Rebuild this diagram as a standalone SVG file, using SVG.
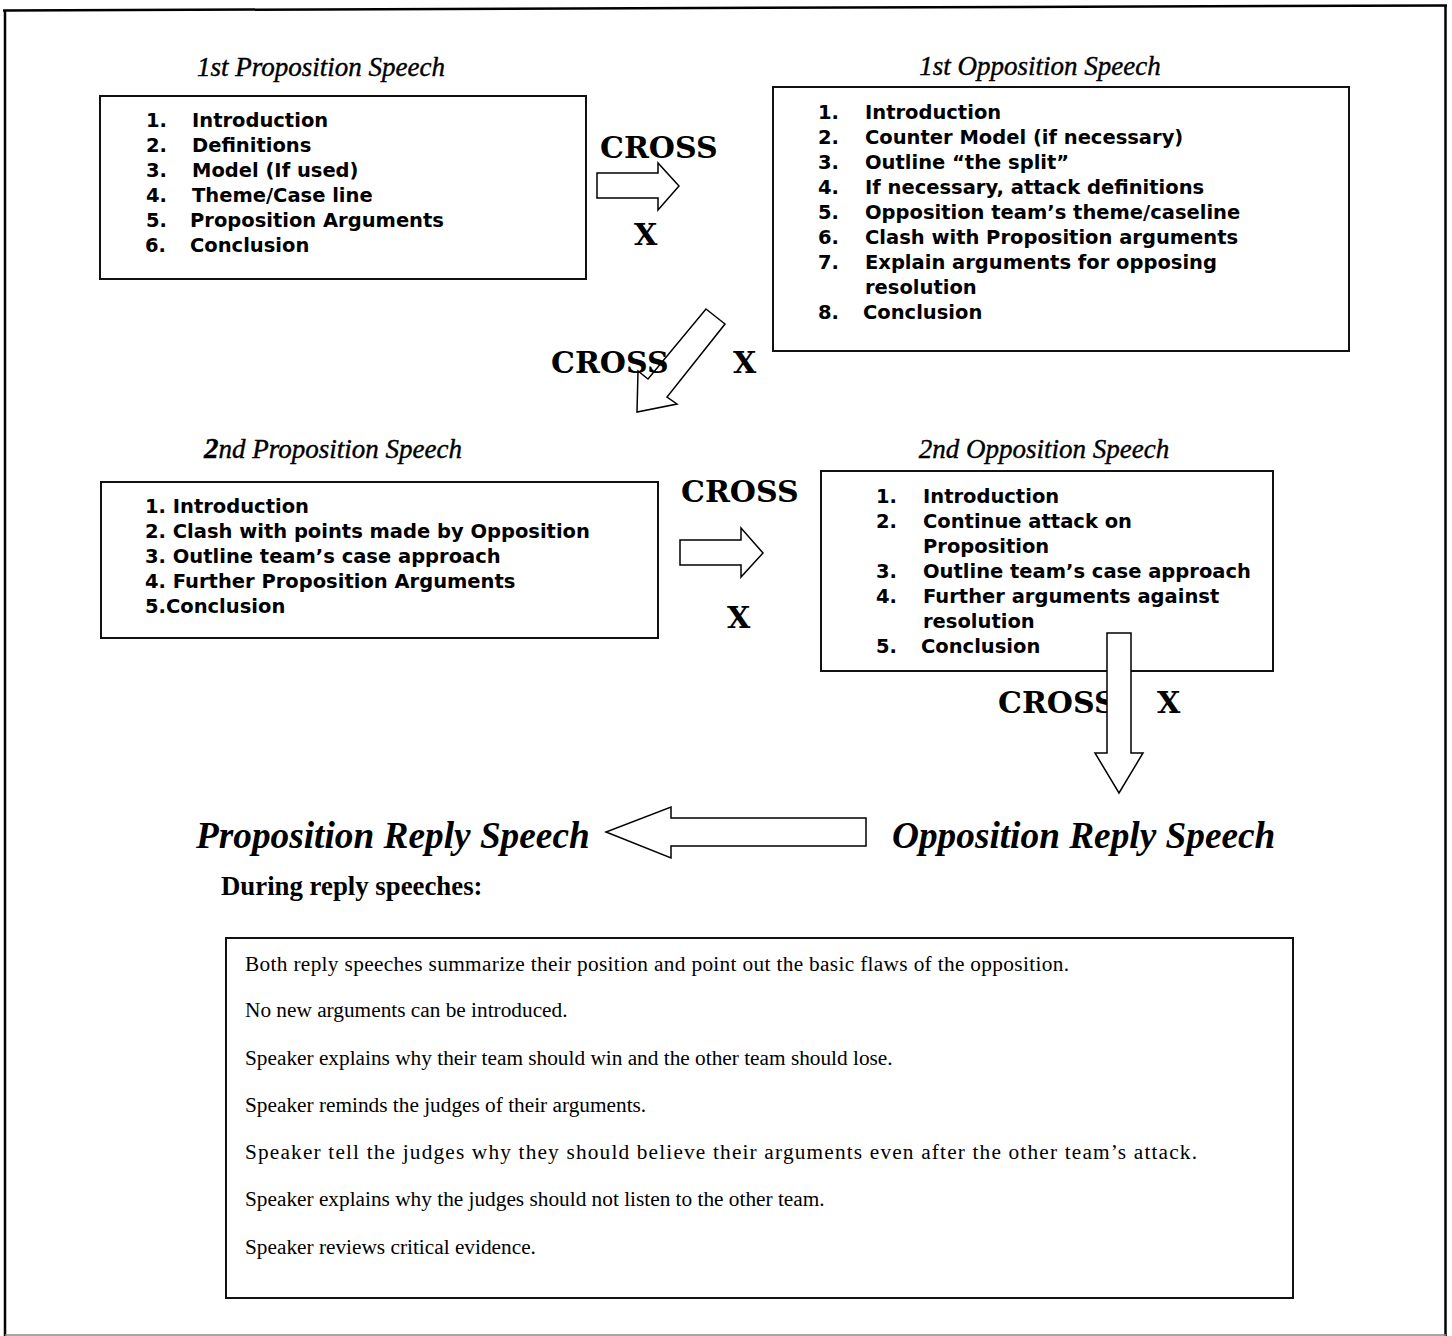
<svg xmlns="http://www.w3.org/2000/svg" width="1452" height="1336" viewBox="0 0 1452 1336">
<style>
.box{fill:#fff;stroke:#111;stroke-width:2}
.arrow{fill:#fff;stroke:#000;stroke-width:1.5;stroke-linejoin:miter}
.item{font-family:"DejaVu Sans",sans-serif;font-weight:bold;font-size:19.5px;fill:#000}
.title{font-family:"Liberation Serif",serif;font-style:italic;font-size:27px;fill:#000;stroke:#000;stroke-width:0.4}
.reply{font-family:"Liberation Serif",serif;font-style:italic;font-weight:bold;font-size:37.3px;fill:#000}
.cross{font-family:"DejaVu Serif",serif;font-weight:bold;font-size:30px;fill:#000}
.note{font-family:"Liberation Serif",serif;font-size:21.3px;fill:#000}
.head{font-family:"Liberation Serif",serif;font-weight:bold;font-size:26.8px;fill:#000}
</style>
<rect width="1452" height="1336" fill="#fff"/>
<g id="frame" stroke="#000" stroke-width="2.5" fill="none">
<line x1="3" y1="10.5" x2="1447" y2="5.5"/>
<line x1="5" y1="10" x2="5" y2="1336"/>
<line x1="1445.5" y1="5" x2="1445.5" y2="1336"/>
<line x1="5" y1="1335" x2="1446" y2="1335" stroke="#888" stroke-width="1.5"/>
</g>

<g id="prop1">
<text class="title" x="321" y="76" text-anchor="middle">1st Proposition Speech</text>
<rect class="box" x="100" y="96" width="486" height="183"/>
<text class="item" x="146" y="127">1.</text><text class="item" x="192" y="127">Introduction</text>
<text class="item" x="146" y="152">2.</text><text class="item" x="192" y="152">Definitions</text>
<text class="item" x="146" y="177">3.</text><text class="item" x="192" y="177">Model (If used)</text>
<text class="item" x="146" y="202">4.</text><text class="item" x="192" y="202">Theme/Case line</text>
<text class="item" x="146" y="227">5.</text><text class="item" x="190" y="227">Proposition Arguments</text>
<text class="item" x="145" y="252">6.</text><text class="item" x="190" y="252">Conclusion</text>
</g>

<g id="opp1">
<text class="title" x="1040" y="75" text-anchor="middle">1st Opposition Speech</text>
<rect class="box" x="773" y="87" width="576" height="264"/>
<text class="item" x="818" y="119">1.</text><text class="item" x="865" y="119">Introduction</text>
<text class="item" x="818" y="144">2.</text><text class="item" x="865" y="144">Counter Model (if necessary)</text>
<text class="item" x="818" y="169">3.</text><text class="item" x="865" y="169">Outline “the split”</text>
<text class="item" x="818" y="194">4.</text><text class="item" x="865" y="194">If necessary, attack definitions</text>
<text class="item" x="818" y="219">5.</text><text class="item" x="865" y="219">Opposition team’s theme/caseline</text>
<text class="item" x="818" y="244">6.</text><text class="item" x="865" y="244">Clash with Proposition arguments</text>
<text class="item" x="818" y="269">7.</text><text class="item" x="865" y="269">Explain arguments for opposing</text>
<text class="item" x="865" y="294">resolution</text>
<text class="item" x="818" y="319">8.</text><text class="item" x="863" y="319">Conclusion</text>
</g>

<g id="prop2">
<text class="title" x="333" y="458" text-anchor="middle"><tspan font-weight="bold" font-size="29px">2</tspan>nd Proposition Speech</text>
<rect class="box" x="101" y="482" width="557" height="156"/>
<text class="item" x="145" y="513">1. Introduction</text>
<text class="item" x="145" y="538">2. Clash with points made by Opposition</text>
<text class="item" x="145" y="563">3. Outline team’s case approach</text>
<text class="item" x="145" y="588">4. Further Proposition Arguments</text>
<text class="item" x="145" y="613">5.Conclusion</text>
</g>

<g id="opp2">
<text class="title" x="1044" y="458" text-anchor="middle">2nd Opposition Speech</text>
<rect class="box" x="821" y="471" width="452" height="200"/>
<text class="item" x="876" y="503">1.</text><text class="item" x="923" y="503">Introduction</text>
<text class="item" x="876" y="528">2.</text><text class="item" x="923" y="528">Continue attack on</text>
<text class="item" x="923" y="553">Proposition</text>
<text class="item" x="876" y="578">3.</text><text class="item" x="923" y="578">Outline team’s case approach</text>
<text class="item" x="876" y="603">4.</text><text class="item" x="923" y="603">Further arguments against</text>
<text class="item" x="923" y="628">resolution</text>
<text class="item" x="876" y="653">5.</text><text class="item" x="921" y="653">Conclusion</text>
</g>

<g id="propReply">
<text class="reply" x="196" y="848">Proposition Reply Speech</text>
</g>
<g id="oppReply">
<text class="reply" x="892" y="848">Opposition Reply Speech</text>
</g>

<g id="notes">
<text class="head" x="221" y="895">During reply speeches:</text>
<rect class="box" x="226" y="938" width="1067" height="360"/>
<text class="note" x="245" y="971" textLength="824" lengthAdjust="spacing">Both reply speeches summarize their position and point out the basic flaws of the opposition.</text>
<text class="note" x="245" y="1017">No new arguments can be introduced.</text>
<text class="note" x="245" y="1065">Speaker explains why their team should win and the other team should lose.</text>
<text class="note" x="245" y="1112">Speaker reminds the judges of their arguments.</text>
<text class="note" x="245" y="1159" textLength="952" lengthAdjust="spacing">Speaker tell the judges why they should believe their arguments even after the other team’s attack.</text>
<text class="note" x="245" y="1206">Speaker explains why the judges should not listen to the other team.</text>
<text class="note" x="245" y="1254">Speaker reviews critical evidence.</text>
</g>

<g id="connectors">
<polygon class="arrow" points="597,173 658,173 658,163 679,186 658,210 658,198 597,198"/>
<polygon class="arrow" points="706,309 725,324 667,397 677,404 637,412 638,371 648,379"/>
<polygon class="arrow" points="680,540 741,540 741,528 763,553 741,577 741,565 680,565"/>
<polygon class="arrow" points="866,818 671,818 671,807 606,832 671,858 671,846 866,846"/>
<text class="cross" x="600" y="158">CROSS</text>
<text class="cross" x="634" y="245">X</text>
<text class="cross" x="551" y="373">CROSS</text>
<text class="cross" x="733" y="373">X</text>
<text class="cross" x="681" y="502">CROSS</text>
<text class="cross" x="727" y="628">X</text>
<text class="cross" x="998" y="713">CROSS</text>
<text class="cross" x="1157" y="713">X</text>
<polygon class="arrow" points="1107,633 1131,633 1131,753 1143,753 1119,793 1095,753 1107,753"/>
</g>
</svg>
